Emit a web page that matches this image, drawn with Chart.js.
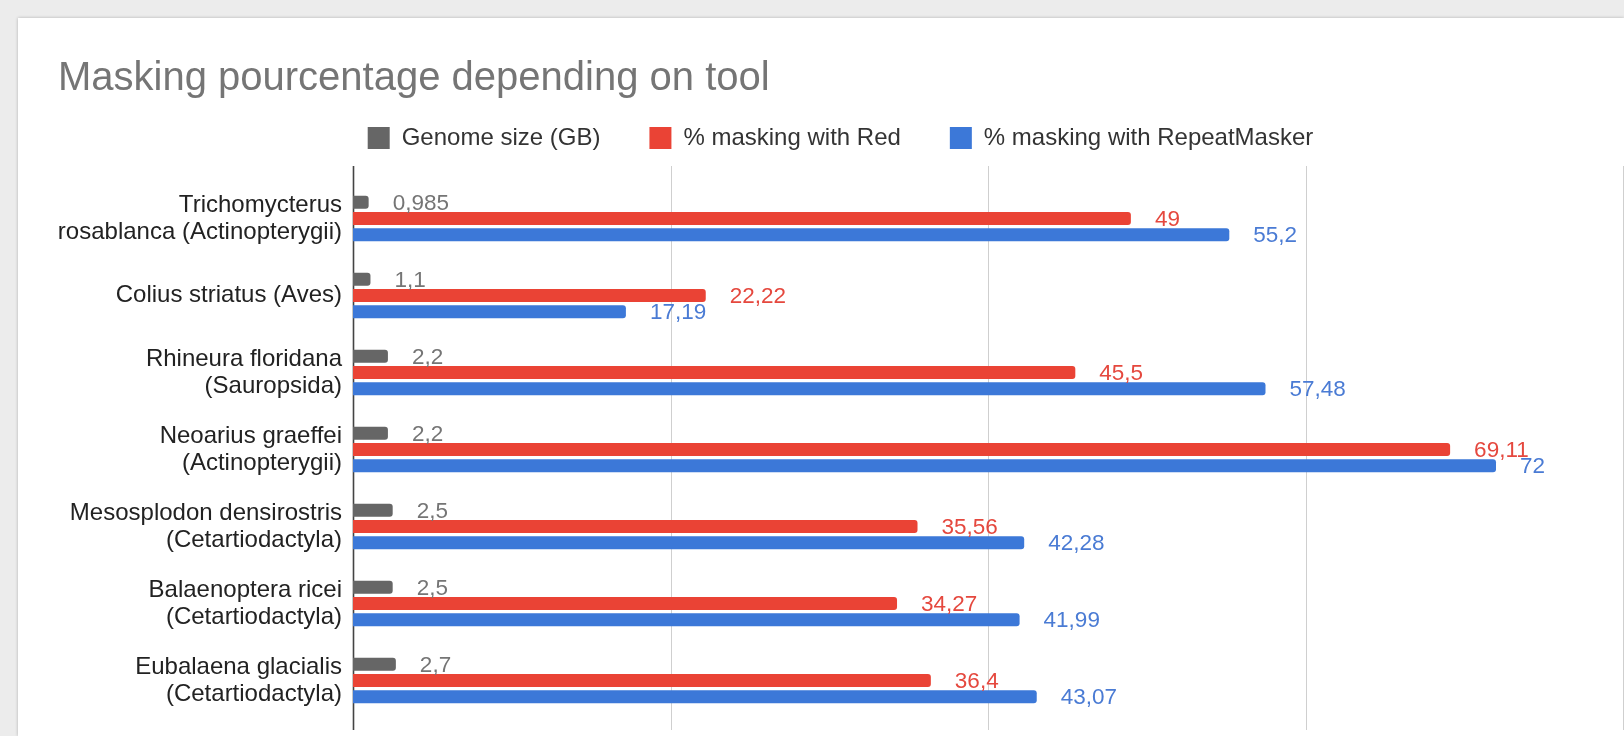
<!DOCTYPE html>
<html>
<head>
<meta charset="utf-8">
<script src="https://cdn.jsdelivr.net/npm/chart.js@4.4.1/dist/chart.umd.min.js"></script>
<style>
  html, body { margin: 0; padding: 0; background: #ececec; overflow: hidden; }
  #card {
    position: absolute; left: 18px; top: 18px; width: 1606px; height: 718px;
    background: #fff; box-shadow: 0 0 3px rgba(0,0,0,0.25);
  }
  canvas { display: block; }
</style>
</head>
<body>
<div id="card"><canvas id="mychart" width="1606" height="718"></canvas></div>
<script>
// species (category axis)
const species = [
    ['Trichomycterus', 'rosablanca (Actinopterygii)'],
    'Colius striatus (Aves)',
    ['Rhineura floridana', '(Sauropsida)'],
    ['Neoarius graeffei', '(Actinopterygii)'],
    ['Mesosplodon densirostris', '(Cetartiodactyla)'],
    ['Balaenoptera ricei', '(Cetartiodactyla)'],
    ['Eubalaena glacialis', '(Cetartiodactyla)']
]
const genomeSize = [0.985, 1.1, 2.2, 2.2, 2.5, 2.5, 2.7]
const maskRed = [49, 22.22, 45.5, 69.11, 35.56, 34.27, 36.4]
const maskRepeatMasker = [55.2, 17.19, 57.48, 72, 42.28, 41.99, 43.07]
const xTicks = [0, 20, 40, 60, 80]

const FONT = "'Liberation Sans', Arial, sans-serif"
const labelColors = ['#757575', '#e5483e', '#4a7bd4']

// grid lines + axis line, drawn a bit taller than the chart area like the original
const gridPlugin = {
    id: 'longGrid',
    beforeDatasetsDraw(chart) {
        const ctx = chart.ctx
        const x = chart.scales.x
        const top = chart.chartArea.top - 14
        const bottom = chart.height - 6
        ctx.save()
        xTicks.forEach(v => {
            const px = Math.round(x.getPixelForValue(v)) + 0.5
            ctx.beginPath()
            ctx.strokeStyle = v === 0 ? '#444' : '#cfcfcf'
            ctx.lineWidth = v === 0 ? 1.6 : 1
            ctx.moveTo(px, top)
            ctx.lineTo(px, bottom)
            ctx.stroke()
        })
        ctx.restore()
    }
}

// value labels to the right of every bar
const valueLabels = {
    id: 'valueLabels',
    afterDatasetsDraw(chart) {
        const ctx = chart.ctx
        ctx.save()
        ctx.font = '22.5px ' + FONT
        ctx.textAlign = 'left'
        ctx.textBaseline = 'middle'
        chart.data.datasets.forEach((ds, i) => {
            const meta = chart.getDatasetMeta(i)
            ctx.fillStyle = labelColors[i]
            meta.data.forEach((bar, j) => {
                const txt = String(ds.data[j]).replace('.', ',')
                ctx.fillText(txt, bar.x + 24, bar.y + 1)
            })
        })
        ctx.restore()
    }
}

const ctx = document.getElementById('mychart')
new Chart(ctx, {
    type: 'bar',
    data: {
        labels: species,
        datasets: [
            { label: 'Genome size (GB)', data: genomeSize, backgroundColor: '#666666' },
            { label: '% masking with Red', data: maskRed, backgroundColor: '#ea4335' },
            { label: '% masking with RepeatMasker', data: maskRepeatMasker, backgroundColor: '#3c78d8' }
        ]
    },
    options: {
        indexAxis: 'y',
        responsive: false,
        animation: false,
        devicePixelRatio: 1,
        layout: { padding: { top: 0, left: 40, right: 1, bottom: 17 } },
        datasets: {
            bar: {
                barPercentage: 0.8,
                categoryPercentage: 0.63,
                borderRadius: 3
            }
        },
        plugins: {
            title: {
                display: true,
                text: 'Masking pourcentage depending on tool',
                align: 'start',
                color: '#757575',
                font: { family: FONT, size: 40, weight: 'normal', lineHeight: 1.2 },
                padding: { top: 37, bottom: -26 }
            },
            legend: {
                display: true,
                position: 'top',
                labels: {
                    color: '#333',
                    font: { family: FONT, size: 24 },
                    boxWidth: 22,
                    boxHeight: 22,
                    padding: 49
                }
            },
            tooltip: { enabled: false }
        },
        scales: {
            x: {
                position: 'top',
                min: 0,
                max: 80,
                afterBuildTicks: (s) => { s.ticks = xTicks.map(v => ({ value: v })) },
                afterFit: (s) => { s.height = 20 },
                grid: { display: false },
                border: { display: false },
                ticks: { display: false }
            },
            y: {
                afterFit: (s) => { s.width = 295; s.paddingTop = 0; s.paddingBottom = 0 },
                grid: { display: false, drawTicks: false },
                border: { display: false },
                ticks: {
                    autoSkip: false,
                    padding: 11,
                    color: '#222',
                    font: { family: FONT, size: 24, lineHeight: 1.125 }
                }
            }
        }
    },
    plugins: [gridPlugin, valueLabels]
})
</script>
</body>
</html>
